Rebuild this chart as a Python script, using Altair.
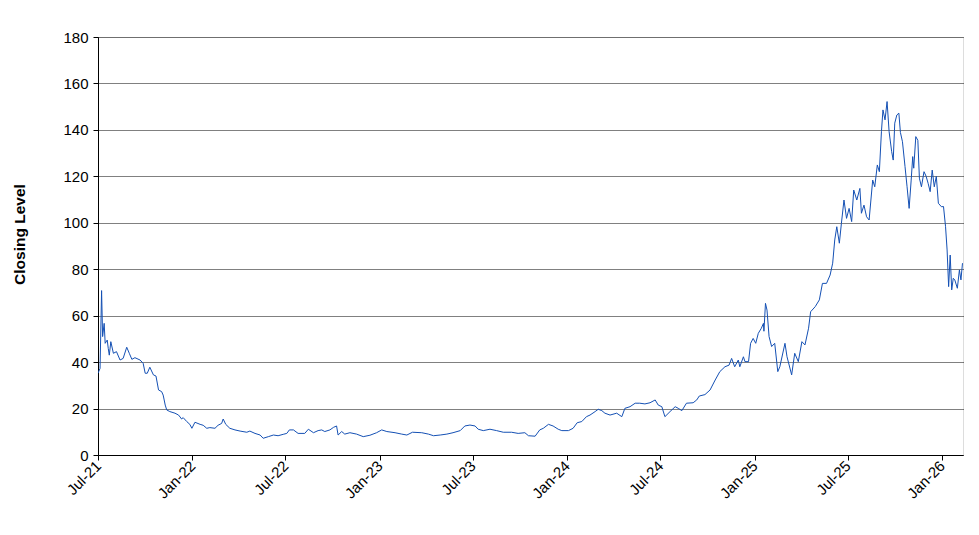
import altair as alt
import pandas as pd

# Closing levels, grouped by year (dates as MM-DD)
days_2021 = ["07-01","07-05","07-08","07-10","07-13","07-15","07-19","07-21",
             "07-23","07-26","07-31","08-06","08-13","08-19","08-26","08-31",
             "09-05","09-11","09-21","09-27","10-01","10-05","10-10","10-17",
             "10-22","10-27","11-02","11-05","11-07","11-09","11-12","11-18",
             "11-28","12-05","12-11","12-14","12-21","12-27","12-31"]
close_2021 = [35.2, 37.3, 70.8, 51.0, 56.7, 48.1, 49.5, 45.9,
              43.0, 48.8, 43.8, 44.5, 40.9, 41.6, 46.4, 43.8,
              41.2, 41.9, 40.9, 39.5, 35.2, 35.2, 37.8, 34.5,
              34.0, 28.0, 27.3, 25.8, 23.7, 21.5, 19.4, 18.7,
              18.0, 17.2, 15.5, 16.1, 14.4, 13.2, 11.5]

days_2022 = ["01-06","01-16","01-22","01-29","02-04","02-14","02-20","02-27",
             "03-02","03-07","03-15","03-25","04-04","04-17","04-23",
             "05-03","05-13","05-19","05-29","06-08","06-17","06-27",
             "07-04","07-09","07-17","07-26","08-08","08-15","08-25",
             "09-03","09-10","09-16","09-26","10-03","10-09","10-12","10-19","10-25",
             "11-04","11-17","11-30","12-13","12-26"]
close_2022 = [14.1, 13.2, 12.8, 11.5, 11.8, 11.5, 12.8, 13.6,
              15.5, 13.2, 11.5, 10.8, 10.3, 9.8, 10.3,
              9.3, 8.6, 7.2, 7.9, 8.6, 8.3, 8.9,
              9.3, 10.8, 10.8, 9.3, 9.3, 11.1, 9.6,
              10.5, 10.8, 10.1, 10.8, 11.9, 12.5, 8.6, 10.1, 9.0,
              9.6, 9.0, 7.9, 8.5, 9.6]

days_2023 = ["01-05","01-15","01-31","02-13","02-23","03-06","03-24",
             "04-06","04-16","04-29","05-12","05-24","06-07","06-16","06-26",
             "07-06","07-12","07-22","08-04","08-17","08-30","09-15","09-28",
             "10-11","10-18","10-31","11-09","11-16","11-26","12-05","12-15","12-22"]
close_2023 = [10.8, 10.1, 9.6, 9.0, 8.6, 9.8, 9.6,
              9.0, 8.3, 8.6, 9.0, 9.6, 10.5, 12.5, 12.9,
              12.5, 11.1, 10.5, 11.1, 10.5, 9.8, 9.8, 9.3,
              9.6, 8.3, 8.1, 10.8, 11.5, 13.2, 12.5, 11.1, 10.5]

days_2024 = ["01-04","01-13","01-21","01-30","02-08","02-15","02-25",
             "03-02","03-09","03-15","03-25","04-07","04-17","04-23",
             "05-03","05-13","05-22","06-01","06-11","06-21","06-27",
             "07-04","07-10","07-20","07-30","08-05","08-12","08-21",
             "09-03","09-10","09-15","09-26","10-06","10-16","10-25",
             "11-04","11-12","11-17","11-23","11-30",
             "12-03","12-10","12-13","12-20","12-24","12-29"]
close_2024 = [10.5, 11.5, 13.9, 14.4, 16.5, 17.2, 18.7,
              19.7, 19.1, 18.0, 17.2, 18.0, 16.5, 20.1,
              20.8, 22.3, 22.3, 22.0, 22.5, 23.7, 21.5,
              20.8, 16.5, 18.7, 20.8, 20.1, 19.1, 22.3,
              22.5, 23.7, 25.4, 26.0, 28.0, 32.3, 35.9,
              38.0, 38.7, 41.6, 38.0, 40.9,
              38.0, 42.3, 40.2, 40.2, 48.1, 50.2]

days_2025 = ["01-03","01-08","01-14","01-18","01-19","01-22","01-25","01-29",
             "02-03","02-09","02-15","02-19","03-01","03-05","03-14","03-20","03-27",
             "04-03","04-09","04-16","04-20","04-29","05-07","05-13","05-21","05-28",
             "06-02","06-06","06-10","06-15","06-19","06-24","06-29",
             "07-04","07-09","07-13","07-19","07-25","07-28",
             "08-02","08-07","08-12","08-19","08-23","08-28",
             "09-01","09-05","09-08","09-12","09-16","09-20","09-25","09-28",
             "10-01","10-05","10-09","10-12","10-16","10-21","10-25","10-29",
             "11-02","11-05","11-07","11-11","11-15","11-18","11-22","11-27",
             "12-01","12-05","12-09","12-13","12-17","12-21","12-25","12-31"]
close_2025 = [48.1, 52.4, 54.6, 56.7, 53.3, 65.3, 62.4, 51.0,
              46.7, 48.1, 35.9, 38.0, 48.1, 42.3, 34.5, 43.8, 40.2,
              48.8, 47.4, 54.6, 61.7, 63.9, 66.8, 73.9, 73.9, 77.5,
              82.6, 92.6, 98.3, 91.2, 99.8, 109.8, 101.9,
              106.2, 100.5, 114.1, 109.8, 114.8, 104.1,
              107.6, 102.6, 101.2, 118.4, 115.5, 124.9,
              122.0, 139.2, 148.6, 144.3, 152.2, 139.2, 130.6, 127.0,
              142.9, 146.4, 147.2, 138.9, 134.9, 124.2, 115.5, 106.2,
              118.4, 128.5, 123.5, 137.1, 135.5, 119.2, 115.5, 122.0,
              120.1, 117.0, 113.4, 122.7, 115.5, 120.0, 108.4, 106.9]

days_2026 = ["01-04","01-08","01-11","01-14","01-17","01-20","01-23","01-26",
             "01-31","02-04","02-07","02-10"]
close_2026 = [107.0, 98.3, 88.3, 72.5, 86.1, 71.1, 76.1, 75.4,
              71.8, 79.7, 75.4, 82.6]

tick_dates = ["2021-07-01", "2022-01-01", "2022-07-01", "2023-01-01", "2023-07-01",
              "2024-01-01", "2024-07-01", "2025-01-01", "2025-07-01", "2026-01-01"]
y_ticks = [0, 20, 40, 60, 80, 100, 120, 140, 160, 180]

years = [(2021, days_2021, close_2021), (2022, days_2022, close_2022),
         (2023, days_2023, close_2023), (2024, days_2024, close_2024),
         (2025, days_2025, close_2025), (2026, days_2026, close_2026)]
rows = []
for yr, ds, vs in years:
    n = min(len(ds), len(vs))
    for d, v in zip(ds[:n], vs[:n]):
        rows.append({"date": pd.Timestamp(f"{yr}-{d}"), "close": v})
df = pd.DataFrame(rows).sort_values("date")

tick_vals = [alt.DateTime(year=int(t[:4]), month=int(t[5:7]), date=1) for t in tick_dates]

chart = alt.Chart(df).mark_line(color="#1450b4", strokeWidth=1, clip=True).encode(
    x=alt.X("date:T",
            scale=alt.Scale(domain=[alt.DateTime(year=2021, month=7, date=1),
                                    alt.DateTime(year=2026, month=2, date=11)]),
            axis=alt.Axis(values=tick_vals, format="%b-%y", title=None, grid=False,
                          labelAngle=315, labelAlign="right", labelBaseline="middle",
                          labelPadding=3, tickSize=5, labelFontSize=15,
                          labelFont="Liberation Sans", labelColor="black",
                          domainColor="black", tickColor="black", labelOverlap=False)),
    y=alt.Y("close:Q",
            scale=alt.Scale(domain=[0, 180], nice=False, zero=True),
            axis=alt.Axis(values=y_ticks, title="Closing Level", grid=True,
                          gridColor="black", gridDash=[1, 1], gridWidth=1,
                          tickSize=5, labelPadding=5, labelFontSize=15,
                          labelFont="Liberation Sans", labelColor="black",
                          titleFont="Liberation Sans", titleFontSize=15.5, titleFontWeight="bold",
                          titleColor="black", titleAngle=270, titleX=-79, titleY=197,
                          titleBaseline="middle", titleAlign="center",
                          domainColor="black", tickColor="black")),
).properties(
    width=865, height=418,
    autosize=alt.AutoSizeParams(type="none"),
    padding={"left": 90, "top": 29, "right": 8, "bottom": 72},
).configure_view(
    stroke="#555555", strokeWidth=1.5
).configure(background="white")

chart.save("out.html", embed_options={"renderer": "svg", "actions": False})
